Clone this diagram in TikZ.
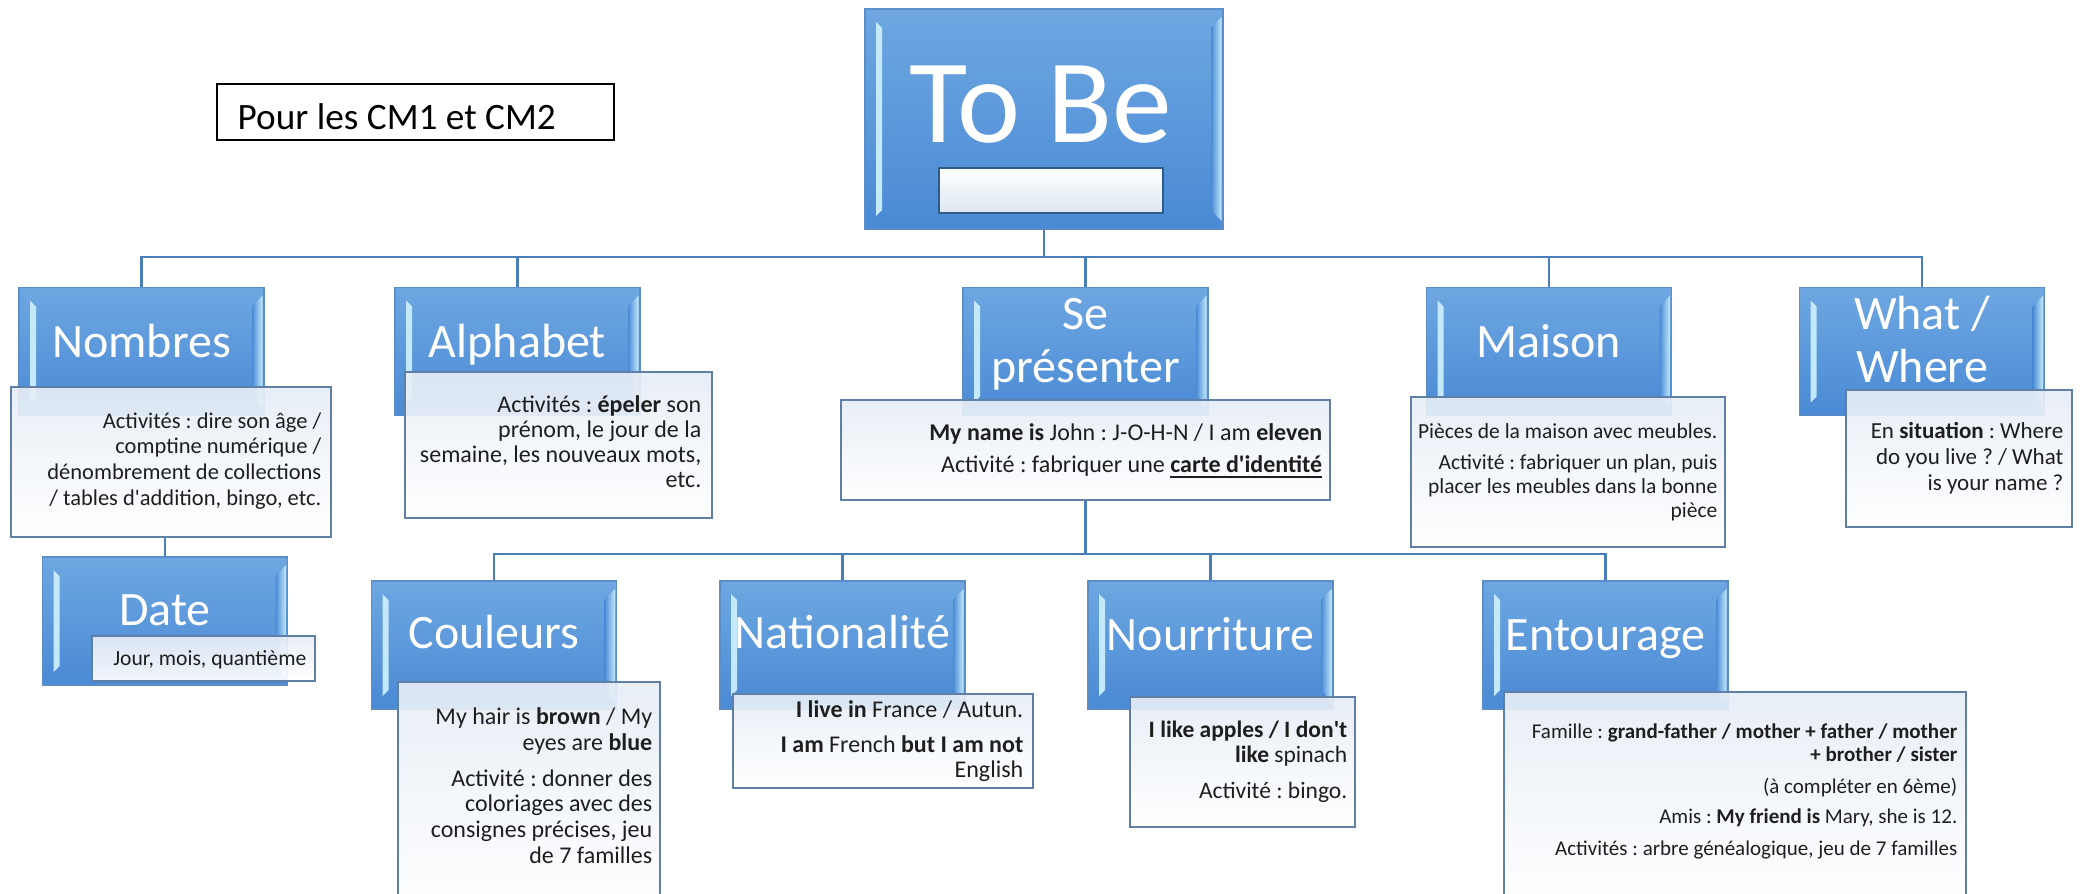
\documentclass[tikz,border=0pt]{standalone}
\usepackage{fontspec}
\setmainfont{Carlito}
\newfontfamily\aposfont{Carlito}
\newcommand{\qap}{{\aposfont'}}
\definecolor{bTop}{HTML}{6EA7E1}
\definecolor{bBot}{HTML}{4A8AD5}
\definecolor{bBord}{HTML}{5B8DC9}
\definecolor{bHi}{HTML}{C3E9FA}
\definecolor{tBord}{HTML}{5F7FA6}
\definecolor{tTop}{HTML}{E6EDF6}
\definecolor{connC}{HTML}{4A7EBB}
\definecolor{barB}{HTML}{2E5C8A}
\definecolor{barF}{HTML}{DCE6F1}
\definecolor{txtC}{HTML}{1E1E1E}
\newcommand{\myfs}[2]{\fontsize{#1pt}{#2pt}\selectfont}
\begin{document}
\frenchspacing
\begin{tikzpicture}[x=0.1mm,y=-0.1mm,
  bluebox/.style={rectangle, draw=bBord, line width=0.15mm, top color=bTop, bottom color=bBot,
     minimum width=24.5mm, minimum height=12.8mm, inner sep=0pt,
     path picture={
       \fill[bHi] ([xshift=1.1mm,yshift=-1.3mm]path picture bounding box.north west) -- ([xshift=1.7mm,yshift=-1.9mm]path picture bounding box.north west) -- ([xshift=1.7mm,yshift=1.9mm]path picture bounding box.south west) -- ([xshift=1.1mm,yshift=1.3mm]path picture bounding box.south west) -- cycle;
       \shade[left color=bBot, right color=bHi] ([xshift=-1.2mm,yshift=-1.9mm]path picture bounding box.north east) -- ([xshift=-0.15mm,yshift=-0.8mm]path picture bounding box.north east) -- ([xshift=-0.15mm,yshift=0.8mm]path picture bounding box.south east) -- ([xshift=-1.2mm,yshift=1.9mm]path picture bounding box.south east) -- cycle;
     }},
  txtbox/.style 2 args={rectangle, draw=tBord, line width=0.12mm, top color=tTop, bottom color=white,
     fill opacity=0.92, minimum width=#1mm, minimum height=#2mm, inner sep=0pt},
  title/.style={text=white, font=\myfs{13.66}{14.8}, align=center, anchor=base, inner sep=0pt},
  body/.style={text=txtC, align=right, anchor=base east, inner sep=0pt},
  conn/.style={draw=connC, line width=0.28mm}
]
\useasboundingbox (0,0) rectangle (2082,894);

% note box
\node[draw=black, line width=0.18mm, minimum width=39.7mm, minimum height=5.6mm, inner sep=0pt] (pour) at (415.5,112) {};
\node[anchor=base west, font=\myfs{10.6}{12}, inner sep=0pt] (pour-t) at (237,129) {Pour les CM1 et CM2};

% root
\node[bluebox, minimum width=35.8mm, minimum height=22mm] (tobe) at (1044,119) {};
\node[draw=barB, line width=0.25mm, top color=white, bottom color=barF, minimum width=22.4mm, minimum height=4.5mm, inner sep=0pt] (tobebar) at (1051,190.5) {};
\node[text=white, font=\myfs{34}{36}, anchor=base, inner sep=0pt] (tobe-t) at (1041,142) {To Be};

% level 1 blue boxes
\node[bluebox] (nombres) at (141.5,351.5) {};
\node[bluebox] (alphabet) at (517.5,351.5) {};
\node[bluebox] (sepres) at (1085.5,351.5) {};
\node[bluebox] (maison) at (1549,351.5) {};
\node[bluebox] (whatwhere) at (1922,351.5) {};
\node[bluebox] (date) at (165,621) {};
% level 2 blue boxes
\node[bluebox] (couleurs) at (494,645) {};
\node[bluebox] (nationalite) at (842.5,645) {};
\node[bluebox] (nourriture) at (1210.5,645) {};
\node[bluebox] (entourage) at (1605.5,645) {};

% titles (base = last line)
\node[title] (nombres-t) at (141.5,357) {Nombres};
\node[title] (alphabet-t) at (517.5,357) {Alphabet};
\node[title] (sepres-t) at (1085.5,382) {Se\\présenter};
\node[title] (maison-t) at (1549,357) {Maison};
\node[title] (whatwhere-t) at (1922,382) {What /\\Where};
\node[title] (date-t) at (165,625) {Date};
\node[title] (couleurs-t) at (494,648) {Couleurs};
\node[title] (nationalite-t) at (842.5,648) {Nationalité};
\node[title] (nourriture-t) at (1210.5,650) {Nourriture};
\node[title] (entourage-t) at (1605.5,650) {Entourage};

% text boxes
\node[txtbox={32}{15}] (nombres-txt) at (171,462) {};
\node[txtbox={30.7}{14.6}] (alphabet-txt) at (558.5,445) {};
\node[txtbox={48.9}{10}] (sepres-txt) at (1085.5,450) {};
\node[txtbox={31.4}{15}] (maison-txt) at (1568,472) {};
\node[txtbox={22.6}{13.7}] (whatwhere-txt) at (1959,458.5) {};
\node[txtbox={22.3}{4.5}] (date-txt) at (203.5,658.5) {};
\node[txtbox={26.2}{22.8}] (couleurs-txt) at (529,796) {};
\node[txtbox={30}{9.4}] (nationalite-txt) at (883,741) {};
\node[txtbox={22.5}{13}] (nourriture-txt) at (1242.5,762) {};
\node[txtbox={46.2}{21.3}] (entourage-txt) at (1735,798.5) {};

% body texts (anchored at the baseline of the last line)
\node[body, font=\myfs{6.4}{7.3}] (nombres-l) at (322,505) {Activités : dire son âge /\\comptine numérique /\\dénombrement de collections\\/ tables d\qap addition, bingo, etc.};
\node[body, font=\myfs{6.83}{7.11}] (alphabet-l) at (702,487) {Activités : \textbf{épeler} son\\prénom, le jour de la\\semaine, les nouveaux mots,\\etc.};
\node[body, font=\myfs{6.83}{6.9}] (sepres-l) at (1323,472) {\textbf{My name is} John : J-O-H-N / I am \textbf{eleven}\\[2.2pt]Activité : fabriquer une \underline{\textbf{carte d\qap identité}}};
\node[body, font=\myfs{6.12}{6.69}] (maison-l) at (1718,517) {Pièces de la maison avec meubles.\\[2.4pt]Activité : fabriquer un plan, puis\\placer les meubles dans la bonne\\pièce};
\node[body, font=\myfs{6.54}{7.3}] (whatwhere-l) at (2064,490) {En \textbf{situation} : Where\\do you live ? / What\\is your name ?};
\node[body, font=\myfs{6.15}{6.5}] (date-l) at (307,665) {Jour, mois, quantième};
\node[body, font=\myfs{6.83}{7.26}] (couleurs-l) at (653,863) {My hair is \textbf{brown} / My\\eyes are \textbf{blue}\\[3pt]Activité : donner des\\coloriages avec des\\consignes précises, jeu\\de 7 familles};
\node[body, font=\myfs{6.83}{7.11}] (nationalite-l) at (1024,777) {\textbf{I live in} France / Autun.\\[2.85pt]\textbf{I am} French \textbf{but I am not}\\English};
\node[body, font=\myfs{6.69}{7.11}] (nourriture-l) at (1348,798) {\textbf{I like apples / I don\qap t}\\\textbf{like} spinach\\[3.1pt]Activité : bingo.};
\node[body, font=\myfs{5.98}{6.54}] (entourage-l) at (1958,855) {Famille : \textbf{grand-father / mother + father / mother}\\\textbf{+ brother / sister}\\[2.6pt](à compléter en 6ème)\\[2pt]Amis : \textbf{My friend is} Mary, she is 12.\\[2.5pt]Activités : arbre généalogique, jeu de 7 familles};

% connectors
\coordinate (bus1) at (1044,257);
\coordinate (bus2) at (1085.5,554);
\draw[conn] (tobe.south) -- (bus1);
\foreach \n in {nombres,alphabet,sepres,maison,whatwhere} \draw[conn] (bus1) -| (\n.north);
\draw[conn] (sepres-txt.south) -- (bus2);
\foreach \n in {couleurs,nationalite,nourriture,entourage} \draw[conn] (bus2) -| (\n.north);
\draw[conn] (date.north |- nombres-txt.south) -- (date.north);
\end{tikzpicture}
\end{document}
